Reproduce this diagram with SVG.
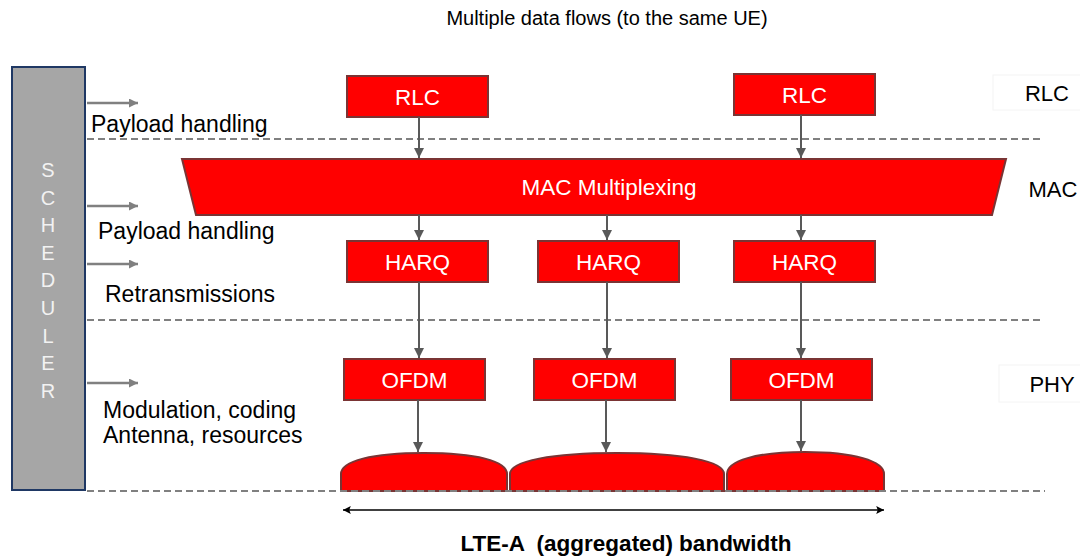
<svg xmlns="http://www.w3.org/2000/svg" width="1080" height="556" viewBox="0 0 1080 556">
  <style>
    .txt { font-family: "Liberation Sans", Arial, sans-serif; fill: #000000; }
    .side { font-size: 23px; }
    .box { fill: #ff0000; stroke: #7a3434; stroke-width: 2; }
    .boxlabel { font-family: "Liberation Sans", Arial, sans-serif; font-size: 22.5px; fill: #ffffff; text-anchor: middle; }
    .sched { font-family: "Liberation Sans", Arial, sans-serif; font-size: 20px; fill: #f2f2f2; text-anchor: middle; }
    .dash { stroke: #808080; stroke-width: 2; stroke-dasharray: 7 4; fill: none; }
    .flow { stroke: #595959; stroke-width: 2; fill: none; marker-end: url(#headDark); }
    .ctrl { stroke: #808080; stroke-width: 2.5; fill: none; marker-end: url(#headGray); }
    .faint { fill: none; stroke: #f4f4f4; stroke-width: 1; }
  </style>
  <defs>
    <marker id="headDark" viewBox="0 0 10 10" refX="10" refY="5" markerWidth="5" markerHeight="5" markerUnits="strokeWidth" orient="auto">
      <path d="M0,0 L10,5 L0,10 Z" fill="#595959"/>
    </marker>
    <marker id="headGray" viewBox="0 0 10 10" refX="10" refY="5" markerWidth="4.5" markerHeight="3.6" markerUnits="strokeWidth" orient="auto">
      <path d="M0,0 L10,5 L0,10 Z" fill="#808080"/>
    </marker>
    <marker id="headBlack" viewBox="0 0 10 10" refX="10" refY="5" markerWidth="8" markerHeight="6" markerUnits="strokeWidth" orient="auto-start-reverse">
      <path d="M0,0 L10,5 L0,10 L2,5 Z" fill="#000000"/>
    </marker>
  </defs>

  <rect width="1080" height="556" fill="#ffffff"/>

  <!-- title -->
  <text class="txt" x="607" y="25" font-size="20" text-anchor="middle">Multiple data flows (to the same UE)</text>

  <!-- layer separators -->
  <g id="separators">
    <line class="dash" x1="87" y1="139" x2="1042" y2="139"/>
    <line class="dash" x1="87" y1="320" x2="1042" y2="320"/>
  </g>

  <!-- scheduler column -->
  <g id="scheduler">
    <rect x="12" y="67" width="73" height="423" fill="#a6a6a6" stroke="#1f3864" stroke-width="2"/>
    <text class="sched" x="48" y="177">S</text>
    <text class="sched" x="48" y="205">C</text>
    <text class="sched" x="48" y="232">H</text>
    <text class="sched" x="48" y="260">E</text>
    <text class="sched" x="48" y="287">D</text>
    <text class="sched" x="48" y="315">U</text>
    <text class="sched" x="48" y="343">L</text>
    <text class="sched" x="48" y="370">E</text>
    <text class="sched" x="48" y="398">R</text>
  </g>

  <!-- scheduler control labels -->
  <g id="control-labels">
    <text class="txt side" x="91" y="132">Payload handling</text>
    <text class="txt side" x="98" y="239">Payload handling</text>
    <text class="txt side" x="105" y="302">Retransmissions</text>
    <text class="txt side" x="103" y="418">Modulation, coding</text>
    <text class="txt side" x="103" y="443">Antenna, resources</text>
  </g>

  <!-- layer names -->
  <g id="layer-names">
    <rect class="faint" x="993" y="75" width="90" height="35"/>
    <rect class="faint" x="999" y="365" width="90" height="37"/>
    <text class="txt" x="1047" y="101" font-size="22" text-anchor="middle">RLC</text>
    <text class="txt" x="1053" y="197" font-size="22" text-anchor="middle">MAC</text>
    <text class="txt" x="1052" y="392" font-size="22" text-anchor="middle">PHY</text>
  </g>

  <!-- RLC entities -->
  <g id="rlc-1">
    <rect class="box" x="347" y="76" width="141" height="41"/>
    <text class="boxlabel" x="417.5" y="104.5">RLC</text>
  </g>
  <g id="rlc-2">
    <rect class="box" x="734" y="74" width="141" height="41"/>
    <text class="boxlabel" x="804.5" y="102.5">RLC</text>
  </g>

  <!-- MAC multiplexing -->
  <g id="mac">
    <polygon class="box" points="182,159 1006,159 992,215 196,215"/>
    <text class="boxlabel" x="609" y="195">MAC Multiplexing</text>
  </g>

  <!-- HARQ entities -->
  <g id="harq-1">
    <rect class="box" x="347" y="241" width="141" height="41"/>
    <text class="boxlabel" x="417.5" y="269.5">HARQ</text>
  </g>
  <g id="harq-2">
    <rect class="box" x="538" y="241" width="141" height="41"/>
    <text class="boxlabel" x="608.5" y="269.5">HARQ</text>
  </g>
  <g id="harq-3">
    <rect class="box" x="734" y="241" width="141" height="41"/>
    <text class="boxlabel" x="804.5" y="269.5">HARQ</text>
  </g>

  <!-- OFDM entities -->
  <g id="ofdm-1">
    <rect class="box" x="344" y="359" width="141" height="41"/>
    <text class="boxlabel" x="414.5" y="387.5">OFDM</text>
  </g>
  <g id="ofdm-2">
    <rect class="box" x="534" y="359" width="141" height="41"/>
    <text class="boxlabel" x="604.5" y="387.5">OFDM</text>
  </g>
  <g id="ofdm-3">
    <rect class="box" x="731" y="359" width="141" height="41"/>
    <text class="boxlabel" x="801.5" y="387.5">OFDM</text>
  </g>

  <!-- component carriers -->
  <g id="carrier-1">
    <path class="box" d="M341,491 V474 C341,461 372,453 424,453 C476,453 507,461 507,474 V491 Z"/>
  </g>
  <g id="carrier-2">
    <path class="box" d="M510,491 V474 C510,461 552,453 617,453 C682,453 724,461 724,474 V491 Z"/>
  </g>
  <g id="carrier-3">
    <path class="box" d="M727,491 V474 C727,461 756,452 805,452 C854,452 884,461 884,474 V491 Z"/>
  </g>

  <line class="dash" x1="87" y1="491" x2="1045" y2="491"/>

  <!-- connectors -->
  <g id="connectors">
    <line class="ctrl" x1="87" y1="103" x2="138" y2="103"/>
    <line class="ctrl" x1="87" y1="206" x2="138" y2="206"/>
    <line class="ctrl" x1="87" y1="264" x2="138" y2="264"/>
    <line class="ctrl" x1="87" y1="383" x2="138" y2="383"/>

    <line class="flow" x1="419" y1="117" x2="419" y2="158"/>
    <line class="flow" x1="801" y1="115" x2="801" y2="158"/>

    <line class="flow" x1="419" y1="215" x2="419" y2="240"/>
    <line class="flow" x1="607" y1="215" x2="607" y2="240"/>
    <line class="flow" x1="801" y1="215" x2="801" y2="240"/>

    <line class="flow" x1="419" y1="282" x2="419" y2="358"/>
    <line class="flow" x1="607" y1="282" x2="607" y2="358"/>
    <line class="flow" x1="801" y1="282" x2="801" y2="358"/>

    <line class="flow" x1="418" y1="400" x2="418" y2="452"/>
    <line class="flow" x1="606" y1="400" x2="606" y2="452"/>
    <line class="flow" x1="801" y1="400" x2="801" y2="451"/>

    <line x1="343" y1="510" x2="884" y2="510" stroke="#000000" stroke-width="1.3" marker-start="url(#headBlack)" marker-end="url(#headBlack)"/>
  </g>

  <text class="txt" x="626" y="551" font-size="22.5" font-weight="bold" text-anchor="middle" xml:space="preserve">LTE-A  (aggregated) bandwidth</text>
</svg>
